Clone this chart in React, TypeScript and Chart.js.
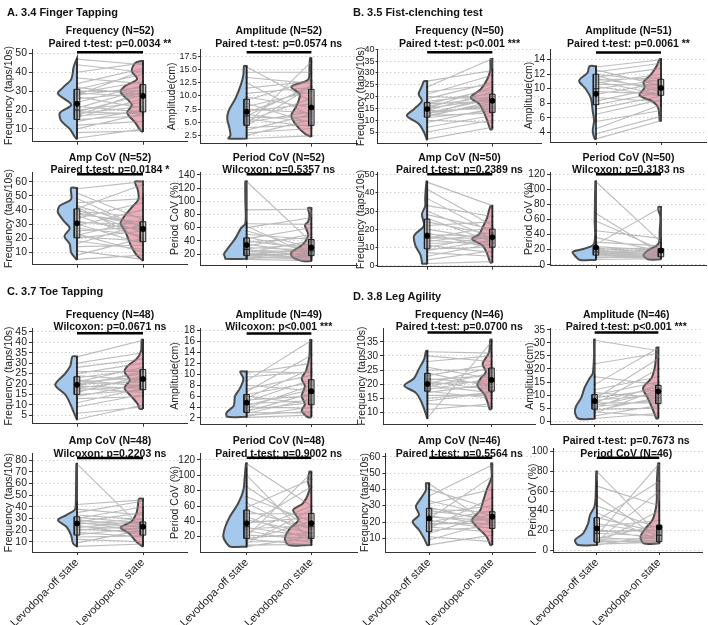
import React, { useEffect, useRef } from 'react';
import { Chart, registerables } from 'chart.js';
Chart.register(...registerables);

const FONT = '"Liberation Sans", Arial, Helvetica, sans-serif';
Chart.defaults.font.family = FONT;

const stateLabels = ['Levodopa-off state', 'Levodopa-on state'];
const freqTitle = 'Frequency (taps/10s)';
const ampTitle = 'Amplitude(cm)';
const pcovTitle = 'Period CoV (%)';

// ---------- A. 3.4 Finger Tapping ----------
const ftFreqOff = [5, 8, 10, 12, 14, 15, 16, 17, 17, 18, 19, 19, 20, 21, 22, 24, 26, 27, 28, 28, 29, 29, 30, 31, 32, 34, 37, 40, 44, 47];
const ftFreqOn = [10, 9, 18, 14, 20, 17, 26, 19, 30, 22, 18, 28, 24, 31, 19, 33, 29, 21, 32, 41, 27, 35, 30, 39, 28, 42, 34, 45, 40, 44];
const ftFreqOffViolin = [[4.4, 0], [5.8, 0.035], [10, 0.11], [14.3, 0.24], [18.5, 0.26], [22.8, 0.086], [28.7, 0.29], [32, 0.21], [36.4, 0.086], [43, 0.05], [47.4, 0]];
const ftFreqOnViolin = [[8.3, 0], [9.2, 0.04], [13.4, 0.12], [18.5, 0.24], [22.8, 0.17], [29.6, 0.34], [32.7, 0.27], [36.4, 0.09], [40.6, 0.17], [44.9, 0.12], [46, 0.03]];
const ftFreqOffBox = [5, 15, 20, 31, 47.5, 23.3];
const ftFreqOnBox = [8.5, 19, 27, 33.5, 46, 27.5];
const ftFreqTicks = [10, 20, 30, 40, 50];

const ftAmpOff = [1.9, 2.5, 3.0, 3.5, 4.0, 4.3, 4.6, 5.0, 5.3, 5.6, 5.9, 6.2, 6.5, 6.8, 7.1, 7.5, 8.0, 8.6, 9.2, 9.8, 10.5, 11.5, 12.5, 13.5, 14.5, 15.5];
const ftAmpOn = [2.4, 5.5, 3.8, 6.5, 4.5, 11.8, 16.5, 7.0, 9.5, 4.2, 6.0, 12.0, 5.0, 11.5, 8.5, 6.8, 10.8, 4.8, 13.0, 7.8, 11.6, 12.8, 6.2, 12.4, 14.5, 9.0];
const ftAmpOffViolin = [[1.9, 0.28], [2.5, 0.25], [4.1, 0.27], [5.6, 0.3], [7.1, 0.28], [9.6, 0.17], [12.1, 0.09], [14, 0.05], [15.7, 0.04]];
const ftAmpOnViolin = [[2.2, 0], [2.8, 0.1], [4.4, 0.23], [6.25, 0.31], [8.1, 0.23], [10.3, 0.18], [11.75, 0.31], [13.1, 0.05], [15.3, 0.03], [17.2, 0.02]];
const ftAmpOffBox = [1.9, 4.4, 6.2, 9.4, 15.7, 7.0];
const ftAmpOnBox = [2.2, 4.4, 7.5, 11.25, 17.2, 7.8];
const ftAmpTicks = [2.5, 5, 7.5, 10, 12.5, 15, 17.5];

const ftAcovOff = [5, 8, 11, 14, 16, 18, 20, 21, 22, 23, 25, 27, 29, 30, 31, 32, 34, 36, 37, 38, 39, 40, 41, 42, 43, 45, 48, 52, 55];
const ftAcovOn = [8, 20, 5, 15, 30, 12, 25, 18, 33, 10, 28, 22, 40, 16, 30, 26, 45, 20, 31, 29, 35, 24, 58, 19, 28, 48, 27, 33, 60];
const ftAcovOffViolin = [[4.8, 0], [5.5, 0.02], [10, 0.09], [15.7, 0.11], [21.4, 0.19], [27, 0.11], [31.6, 0.19], [38.4, 0.29], [43, 0.26], [47.5, 0.09], [55.5, 0.09]];
const ftAcovOnViolin = [[3.9, 0], [7.7, 0.09], [13.4, 0.17], [19, 0.22], [24.8, 0.27], [30.5, 0.34], [35, 0.29], [41.8, 0.17], [47.5, 0.07], [54.3, 0.08], [60, 0.12]];
const ftAcovOffBox = [4.8, 20.2, 31, 40.7, 55.5, 30.5];
const ftAcovOnBox = [3.9, 17.5, 25, 31.6, 52, 26.6];
const ftAcovTicks = [10, 20, 30, 40, 50, 60];

const ftPcovOff = [12, 13, 14, 15, 16, 17, 18, 19, 20, 21, 22, 24, 26, 27, 28, 30, 32, 35, 38, 40, 43, 46, 50, 55, 60, 62, 66, 87, 130];
const ftPcovOn = [10, 18, 15, 22, 12, 30, 16, 20, 25, 14, 40, 19, 23, 17, 35, 26, 50, 21, 45, 28, 60, 24, 42, 30, 75, 18, 65, 88, 38];
const ftPcovOffViolin = [[12.7, 0.33], [14, 0.33], [20, 0.35], [30, 0.28], [44.5, 0.17], [59, 0.09], [66.5, 0.02], [100, 0.02], [130, 0.02]];
const ftPcovOnViolin = [[9.3, 0.13], [15.1, 0.29], [22.5, 0.31], [34.7, 0.13], [49.4, 0.05], [64, 0.1], [69, 0.05], [78.8, 0.03], [90, 0.05]];
const ftPcovOffBox = [12, 17.6, 27, 44.5, 70, 33.7];
const ftPcovOnBox = [9, 17.6, 25, 42, 75, 30];
const ftPcovTicks = [20, 40, 60, 80, 100, 120, 140];

// ---------- B. 3.5 Fist-clenching test ----------
const fcFreqOff = [2, 5, 7, 9, 10, 11, 11.5, 12, 12, 12.5, 13, 13, 14, 14, 15, 15, 16, 17, 17, 18, 19, 20, 21, 22, 24, 26.5];
const fcFreqOn = [7, 10, 12, 15, 9, 14, 18, 13, 17, 20, 16, 19, 22, 15, 19, 24, 20, 18, 23, 21, 26, 19, 29, 25, 36, 31];
const fcFreqOffViolin = [[1.5, 0], [5, 0.05], [8.5, 0.13], [11.9, 0.31], [14.7, 0.2], [18.2, 0.08], [21, 0.13], [24.4, 0.08], [26.5, 0.05]];
const fcFreqOnViolin = [[6.1, 0.03], [9.9, 0.08], [13.3, 0.13], [16.8, 0.2], [19.6, 0.33], [23, 0.18], [27.2, 0.08], [31.4, 0.03], [35.8, 0.03]];
const fcFreqOffBox = [2, 11.3, 14.5, 17.5, 26.5, 14.7];
const fcFreqOnBox = [6.5, 13.3, 18.5, 21, 32, 18.2];
const fcFreqTicks = [5, 10, 15, 20, 25, 30, 35, 40];

const fcAmpOff = [3.1, 3.8, 4.5, 5.5, 6.5, 7.2, 7.8, 8.3, 8.8, 9.2, 9.6, 10.0, 10.3, 10.6, 10.8, 11.0, 11.2, 11.4, 11.6, 11.8, 12.0, 12.3, 12.6, 13.0];
const fcAmpOn = [5.6, 6.2, 7.8, 7.0, 8.5, 9.0, 9.5, 10.2, 8.2, 10.8, 9.3, 11.2, 9.0, 10.5, 12.0, 9.2, 11.5, 10.0, 12.8, 9.6, 11.0, 13.5, 10.4, 14.0];
const fcAmpOffViolin = [[3.1, 0.02], [4.2, 0.05], [5.6, 0.03], [6.9, 0.05], [8.7, 0.08], [10, 0.16], [11.1, 0.26], [12.2, 0.13], [13.1, 0.1]];
const fcAmpOnViolin = [[5.6, 0.02], [7.3, 0.04], [8.2, 0.12], [9.1, 0.33], [10.2, 0.25], [10.9, 0.27], [12, 0.15], [13.1, 0.07], [14.1, 0.02]];
const fcAmpOffBox = [5.5, 7.8, 10, 12, 13.1, 9.3];
const fcAmpOnBox = [7.3, 9.1, 10.2, 11.3, 14.1, 10.1];
const fcAmpTicks = [4, 6, 8, 10, 12, 14];

const fcAcovOff = [1, 3, 5, 7, 8, 9, 10, 11, 12, 13, 14, 15, 15, 16, 17, 18, 20, 22, 24, 26, 28, 30, 33, 37, 42, 46];
const fcAcovOn = [2, 8, 12, 5, 14, 10, 16, 7, 13, 18, 11, 15, 21, 12, 16, 9, 14, 24, 17, 13, 20, 15, 27, 18, 22, 33];
const fcAcovOffViolin = [[0.9, 0.08], [1.8, 0.08], [5.5, 0.1], [10.9, 0.18], [16.4, 0.2], [21.8, 0.05], [28.2, 0.08], [32.7, 0.03], [37.3, 0.03], [46.4, 0.01]];
const fcAcovOnViolin = [[1.5, 0.03], [6.4, 0.08], [10.9, 0.15], [14.5, 0.31], [17.3, 0.2], [20.9, 0.15], [26.4, 0.08], [32.7, 0.03]];
const fcAcovOffBox = [1, 9.1, 15, 25.5, 46.4, 16.4];
const fcAcovOnBox = [1.5, 10, 15, 20, 32.7, 15.5];
const fcAcovTicks = [0, 10, 20, 30, 40, 50];

const fcPcovOff = [7, 9, 10, 11, 12, 13, 13, 14, 15, 15, 16, 17, 17, 18, 19, 20, 21, 22, 24, 27, 30, 36, 45, 58, 68, 110];
const fcPcovOn = [8, 12, 9, 14, 10, 16, 11, 13, 18, 12, 15, 10, 20, 14, 17, 13, 22, 16, 19, 76, 25, 18, 35, 20, 15, 30];
const fcPcovOffViolin = [[6.4, 0.25], [10.6, 0.31], [17, 0.36], [21.3, 0.18], [27.7, 0.03], [60, 0.02], [110.6, 0.01]];
const fcPcovOnViolin = [[7.2, 0.2], [12.8, 0.27], [19.1, 0.2], [27.7, 0.04], [45, 0.02], [63.8, 0.01], [72.3, 0.04], [76.6, 0.04]];
const fcPcovOffBox = [6.4, 12.8, 17, 23.4, 40, 23];
const fcPcovOnBox = [7.2, 10.6, 16, 21.3, 35, 19];
const fcPcovTicks = [0, 20, 40, 60, 80, 100, 120];

// ---------- C. 3.7 Toe Tapping ----------
const ttFreqOff = [3, 6, 9, 11, 13, 14, 15, 16, 17, 18, 18, 19, 19, 20, 20, 21, 21, 22, 23, 24, 25, 26, 28, 30, 33];
const ttFreqOn = [10, 9, 15, 18, 14, 20, 17, 24, 19, 16, 22, 26, 18, 21, 25, 23, 28, 19, 27, 22, 30, 26, 32, 35, 41];
const ttFreqOffViolin = [[2.9, 0], [6.5, 0.05], [10.4, 0.1], [15, 0.18], [19.6, 0.33], [25, 0.18], [28.8, 0.1], [33.2, 0.07]];
const ttFreqOnViolin = [[8.1, 0.05], [10.4, 0.08], [14.2, 0.18], [18.1, 0.28], [21.9, 0.2], [25.8, 0.28], [28.8, 0.23], [31.9, 0.1], [35.8, 0.03], [41.2, 0.02]];
const ttFreqOffBox = [3, 15, 19.5, 23.5, 33.2, 19.6];
const ttFreqOnBox = [8.1, 17.3, 22, 27, 41.2, 22.4];
const ttFreqTicks = [5, 10, 15, 20, 25, 30, 35, 40, 45];

const ttAmpOff = [2.1, 2.3, 2.5, 2.8, 3.0, 3.2, 3.5, 3.8, 4.0, 4.3, 4.6, 5.0, 5.3, 5.6, 6.0, 6.3, 6.8, 7.3, 8.0, 8.8, 9.5, 10.2, 10.5];
const ttAmpOn = [2.5, 4.0, 3.2, 5.5, 2.9, 6.5, 4.8, 8.0, 3.8, 7.2, 5.2, 9.0, 6.0, 11.0, 4.5, 8.5, 13.5, 9.8, 7.0, 16.2, 10.5, 12.0, 10.3];
const ttAmpOffViolin = [[2.2, 0.3], [3, 0.31], [4.2, 0.2], [6, 0.18], [7.5, 0.1], [9.2, 0.05], [10.5, 0.1]];
const ttAmpOnViolin = [[2.1, 0.05], [3.3, 0.15], [4.5, 0.1], [6, 0.15], [7.8, 0.1], [9.2, 0.15], [10.7, 0.08], [13.4, 0.03], [16.3, 0.02]];
const ttAmpOffBox = [2.2, 3, 4.5, 6.3, 10.5, 4.8];
const ttAmpOnBox = [2.1, 4.4, 6.5, 9, 16.3, 6.9];
const ttAmpTicks = [2, 4, 6, 8, 10, 12, 14, 16, 18];

const ttAcovOff = [6, 9, 12, 14, 16, 18, 20, 21, 22, 23, 24, 25, 26, 27, 27, 28, 29, 30, 31, 33, 35, 38, 42, 77];
const ttAcovOn = [8, 20, 10, 15, 22, 14, 24, 18, 28, 21, 16, 30, 23, 19, 35, 25, 22, 40, 26, 29, 45, 33, 46, 21];
const ttAcovOffViolin = [[5.7, 0], [8.6, 0.06], [15.7, 0.09], [22.9, 0.16], [28.6, 0.29], [32.9, 0.16], [37, 0.04], [40, 0.02], [77, 0.01]];
const ttAcovOnViolin = [[5.7, 0], [10, 0.1], [17.1, 0.21], [22.3, 0.34], [27.1, 0.18], [34.3, 0.1], [40, 0.08], [47, 0.06]];
const ttAcovOffBox = [5.7, 15.7, 25, 31.4, 45, 25.7];
const ttAcovOnBox = [5.7, 15.7, 22, 27, 40, 22.9];
const ttAcovTicks = [10, 20, 30, 40, 50, 60, 70, 80];

const ttPcovOff = [7, 9, 11, 13, 15, 17, 18, 20, 22, 25, 28, 30, 32, 35, 38, 42, 46, 50, 54, 58, 64, 72, 85, 100, 115];
const ttPcovOn = [20, 10, 55, 15, 40, 9, 25, 103, 18, 60, 12, 35, 20, 85, 45, 25, 15, 50, 30, 95, 22, 40, 30, 15, 60];
const ttPcovOffViolin = [[7, 0.25], [11.3, 0.31], [20, 0.36], [33, 0.33], [46, 0.26], [63.5, 0.13], [81, 0.05], [98.3, 0.03], [115.7, 0.01]];
const ttPcovOnViolin = [[9.1, 0.35], [17.8, 0.41], [30.9, 0.33], [41.7, 0.2], [54.8, 0.28], [63.5, 0.13], [81, 0.03], [91.7, 0.05], [104.8, 0.03]];
const ttPcovOffBox = [7, 17.8, 33, 54.8, 110, 37.4];
const ttPcovOnBox = [9, 17.8, 33, 50.4, 104.8, 37.4];
const ttPcovTicks = [20, 40, 60, 80, 100, 120];

// ---------- D. 3.8 Leg Agility ----------
const laFreqOff = [8, 11, 13, 14, 15, 16, 17, 17.5, 18, 18.5, 19, 19.5, 20, 20, 21, 21.5, 22, 23, 24, 25, 26, 28, 30, 31.5];
const laFreqOn = [35, 13, 12, 17, 17, 16, 20, 15, 22, 19, 24, 17, 21, 26, 18, 23, 20, 27, 19, 25, 22, 30, 28, 31];
const laFreqOffViolin = [[7.7, 0], [11.1, 0.05], [14, 0.1], [16.9, 0.18], [19.5, 0.36], [22, 0.21], [25.5, 0.13], [28.9, 0.05], [31.8, 0.02]];
const laFreqOnViolin = [[11.1, 0.03], [13.4, 0.06], [16.3, 0.11], [19.5, 0.22], [22, 0.17], [24.3, 0.09], [27.2, 0.14], [31.2, 0.04], [35.8, 0.02]];
const laFreqOffBox = [7.7, 17.5, 20, 23.8, 31.8, 20];
const laFreqOnBox = [11.1, 17.5, 21, 25.7, 35.8, 21.5];
const laFreqTicks = [10, 15, 20, 25, 30, 35];

const laAmpOff = [1, 2, 3, 3.5, 4, 4.5, 5, 5.5, 6, 6.5, 7, 7.5, 8, 8.5, 9, 10, 11, 12, 14, 17, 22, 31];
const laAmpOn = [3, 6, 12, 2, 9, 5, 14, 8, 11, 20, 7, 13, 10, 24, 12, 15, 9, 17, 28, 14, 26, 27];
const laAmpOffViolin = [[0.9, 0.25], [3.4, 0.31], [5.8, 0.29], [9, 0.21], [12.7, 0.16], [16.4, 0.08], [18.3, 0.03], [25, 0.01], [31.3, 0.01]];
const laAmpOnViolin = [[1, 0.03], [2.7, 0.06], [5.8, 0.11], [9, 0.17], [12.7, 0.24], [16.4, 0.11], [20.1, 0.06], [23.8, 0.04], [28.2, 0.03]];
const laAmpOffBox = [0.9, 4.6, 7, 10.2, 18, 7.7];
const laAmpOnBox = [1, 6.7, 11, 13.7, 24, 11.4];
const laAmpTicks = [0, 5, 10, 15, 20, 25, 30, 35];

const laAcovOff = [6, 9, 11, 13, 15, 16, 17, 18, 19, 20, 21, 22, 23, 24, 25, 27, 28, 29, 31, 33, 36, 40, 43.5];
const laAcovOn = [12, 20, 8, 25, 17, 35, 14, 22, 19, 27, 16, 48, 21, 18, 30, 22, 26, 20, 40, 24, 55, 28, 18];
const laAcovOffViolin = [[5.9, 0.03], [10, 0.08], [15.1, 0.16], [20.2, 0.26], [24.3, 0.16], [29.4, 0.21], [34.5, 0.13], [39.6, 0.05], [43.7, 0.05]];
const laAcovOnViolin = [[5.9, 0.03], [11, 0.09], [16.1, 0.22], [21.2, 0.32], [27.3, 0.19], [33.5, 0.14], [39.6, 0.09], [47.8, 0.01], [55.9, 0.02]];
const laAcovOffBox = [5.9, 14.1, 21, 28.4, 43.7, 22.2];
const laAcovOnBox = [5.9, 16.1, 22, 26.3, 40, 23.3];
const laAcovTicks = [10, 20, 30, 40, 50, 60];

const laPcovOff = [5, 6, 7, 8, 9, 10, 11, 12, 13, 15, 17, 19, 21, 24, 27, 30, 33, 38, 45, 55, 65, 80];
const laPcovOn = [15, 8, 40, 10, 60, 7, 12, 25, 9, 88, 14, 20, 11, 30, 16, 70, 18, 10, 22, 12, 45, 15];
const laPcovOffViolin = [[5.1, 0.3], [10.2, 0.35], [17, 0.22], [27.1, 0.14], [35.6, 0.11], [44, 0.04], [54.2, 0.02], [79.7, 0.01]];
const laPcovOnViolin = [[6.8, 0.25], [13.6, 0.3], [22, 0.22], [30.5, 0.11], [40.7, 0.06], [50.8, 0.04], [66, 0.04], [88, 0.02]];
const laPcovOffBox = [5, 8, 17, 33, 70, 22];
const laPcovOnBox = [6.8, 8.5, 15, 25.4, 50, 23];
const laPcovTicks = [0, 20, 40, 60, 80, 100];

// ---------- section headers ----------
const sections = [
  { text: 'A. 3.4 Finger Tapping', x: 7, y: 6 },
  { text: 'B. 3.5 Fist-clenching test', x: 353, y: 6 },
  { text: 'C. 3.7 Toe Tapping', x: 7, y: 285 },
  { text: 'D. 3.8 Leg Agility', x: 353, y: 290 },
];

// layout per row / column (pixels)
const R1 = { top: 49, bottom: 145, titleY: 24, bottomRow: false };
const R2 = { top: 172, bottom: 268, titleY: 150.5, bottomRow: false };
const R3 = { top: 328, bottom: 427, titleY: 307.5, bottomRow: false };
const R4 = { top: 453, bottom: 552, titleY: 434, bottomRow: true };
const C1 = { titleLeft: 3, plotLeft: 32, offX: 77, onX: 143, tickSize: 10.5, tickLen: 3 };
const C2 = { titleLeft: 169, plotLeft: 200, offX: 246.5, onX: 311, tickSize: 10, tickLen: 3 };
const C3B = { titleLeft: 355, plotLeft: 377.5, offX: 427, onX: 492, tickSize: 9, tickLen: 2 };
const C3D = { titleLeft: 356, plotLeft: 383, offX: 427.3, onX: 491.3, tickSize: 10, tickLen: 3 };
const C4B = { titleLeft: 523, plotLeft: 550, offX: 596, onX: 661, tickSize: 10, tickLen: 3 };
const C4D = { titleLeft: 524, plotLeft: 550, offX: 594.5, onX: 658, tickSize: 10, tickLen: 3 };

const panels = [
  { title: ['Frequency (N=52)', 'Paired t-test: p=0.0034 **'], yTitle: freqTitle, off: ftFreqOff, on: ftFreqOn, offV: ftFreqOffViolin, onV: ftFreqOnViolin, offBox: ftFreqOffBox, onBox: ftFreqOnBox, ticks: ftFreqTicks, dec: 0, yMin: 3.2, yMax: 52.2, bar: 50.7, geo: { ...R1, ...C1 } },
  { title: ['Amplitude (N=52)', 'Paired t-test: p=0.0574 ns'], yTitle: ampTitle, off: ftAmpOff, on: ftAmpOn, offV: ftAmpOffViolin, onV: ftAmpOnViolin, offBox: ftAmpOffBox, onBox: ftAmpOnBox, ticks: ftAmpTicks, dec: 1, yMin: 0.93, yMax: 18.94, bar: 18.3, geo: { ...R1, ...C2, tickSize: 9, titleLeft: 166, tickLen: 2 } },
  { title: ['Amp CoV (N=52)', 'Paired t-test: p=0.0184 *'], yTitle: freqTitle, off: ftAcovOff, on: ftAcovOn, offV: ftAcovOffViolin, onV: ftAcovOnViolin, offBox: ftAcovOffBox, onBox: ftAcovOnBox, ticks: ftAcovTicks, dec: 0, yMin: 1.2, yMax: 66.6, bar: 65.2, geo: { ...R2, ...C1 } },
  { title: ['Period CoV (N=52)', 'Wilcoxon: p=0.5357 ns'], yTitle: pcovTitle, off: ftPcovOff, on: ftPcovOn, offV: ftPcovOffViolin, onV: ftPcovOnViolin, offBox: ftPcovOffBox, onBox: ftPcovOnBox, ticks: ftPcovTicks, dec: 0, yMin: 3.4, yMax: 144.4, bar: 141, geo: { ...R2, ...C2 } },
  { title: ['Frequency (N=50)', 'Paired t-test: p<0.001 ***'], yTitle: freqTitle, off: fcFreqOff, on: fcFreqOn, offV: fcFreqOffViolin, onV: fcFreqOnViolin, offBox: fcFreqOffBox, onBox: fcFreqOnBox, ticks: fcFreqTicks, dec: 0, yMin: 0.1, yMax: 40.1, bar: 38.75, geo: { ...R1, ...C3B } },
  { title: ['Amplitude (N=51)', 'Paired t-test: p=0.0061 **'], yTitle: ampTitle, off: fcAmpOff, on: fcAmpOn, offV: fcAmpOffViolin, onV: fcAmpOnViolin, offBox: fcAmpOffBox, onBox: fcAmpOnBox, ticks: fcAmpTicks, dec: 0, yMin: 2.67, yMax: 15.47, bar: 15.0, geo: { ...R1, ...C4B } },
  { title: ['Amp CoV (N=50)', 'Paired t-test: p=0.2389 ns'], yTitle: freqTitle, off: fcAcovOff, on: fcAcovOn, offV: fcAcovOffViolin, onV: fcAcovOnViolin, offBox: fcAcovOffBox, onBox: fcAcovOnBox, ticks: fcAcovTicks, dec: 0, yMin: -0.74, yMax: 51.6, bar: 50.4, geo: { ...R2, ...C3B } },
  { title: ['Period CoV (N=50)', 'Wilcoxon: p=0.3183 ns'], yTitle: pcovTitle, off: fcPcovOff, on: fcPcovOn, offV: fcPcovOffViolin, onV: fcPcovOnViolin, offBox: fcPcovOffBox, onBox: fcPcovOnBox, ticks: fcPcovTicks, dec: 0, yMin: -0.3, yMax: 122.9, bar: 120, geo: { ...R2, ...C4B } },
  { title: ['Frequency (N=48)', 'Wilcoxon: p=0.0671 ns'], yTitle: freqTitle, off: ttFreqOff, on: ttFreqOn, offV: ttFreqOffViolin, onV: ttFreqOnViolin, offBox: ttFreqOffBox, onBox: ttFreqOnBox, ticks: ttFreqTicks, dec: 0, yMin: 1.0, yMax: 46.7, bar: 44.3, geo: { ...R3, ...C1 } },
  { title: ['Amplitude (N=49)', 'Wilcoxon: p<0.001 ***'], yTitle: ampTitle, off: ttAmpOff, on: ttAmpOn, offV: ttAmpOffViolin, onV: ttAmpOnViolin, offBox: ttAmpOffBox, onBox: ttAmpOnBox, ticks: ttAmpTicks, dec: 0, yMin: 0.88, yMax: 18.5, bar: 17.5, geo: { ...R3, ...C2 } },
  { title: ['Frequency (N=46)', 'Paired t-test: p=0.0700 ns'], yTitle: freqTitle, off: laFreqOff, on: laFreqOn, offV: laFreqOffViolin, onV: laFreqOnViolin, offBox: laFreqOffBox, onBox: laFreqOnBox, ticks: laFreqTicks, dec: 0, yMin: 5.86, yMax: 39.9, bar: 38.3, geo: { ...R3, ...C3D } },
  { title: ['Amplitude (N=46)', 'Paired t-test: p<0.001 ***'], yTitle: ampTitle, off: laAmpOff, on: laAmpOn, offV: laAmpOffViolin, onV: laAmpOnViolin, offBox: laAmpOffBox, onBox: laAmpOnBox, ticks: laAmpTicks, dec: 0, yMin: -1.1, yMax: 35.7, bar: 34, geo: { ...R3, ...C4D } },
  { title: ['Amp CoV (N=48)', 'Wilcoxon: p=0.2203 ns'], yTitle: freqTitle, off: ttAcovOff, on: ttAcovOn, offV: ttAcovOffViolin, onV: ttAcovOnViolin, offBox: ttAcovOffBox, onBox: ttAcovOnBox, ticks: ttAcovTicks, dec: 0, yMin: 1.17, yMax: 86, bar: 82, geo: { ...R4, ...C1 } },
  { title: ['Period CoV (N=48)', 'Paired t-test: p=0.9002 ns'], yTitle: pcovTitle, off: ttPcovOff, on: ttPcovOn, offV: ttPcovOffViolin, onV: ttPcovOnViolin, offBox: ttPcovOffBox, onBox: ttPcovOnBox, ticks: ttPcovTicks, dec: 0, yMin: 0.05, yMax: 129.1, bar: 123, geo: { ...R4, ...C2 } },
  { title: ['Amp CoV (N=46)', 'Paired t-test: p=0.5564 ns'], yTitle: freqTitle, off: laAcovOff, on: laAcovOn, offV: laAcovOffViolin, onV: laAcovOnViolin, offBox: laAcovOffBox, onBox: laAcovOnBox, ticks: laAcovTicks, dec: 0, yMin: 1.64, yMax: 62.3, bar: 59.4, geo: { ...R4, ...C3D } },
  { title: ['Paired t-test: p=0.7673 ns', 'Period CoV (N=46)'], yTitle: pcovTitle, off: laPcovOff, on: laPcovOn, offV: laPcovOffViolin, onV: laPcovOnViolin, offBox: laPcovOffBox, onBox: laPcovOnBox, ticks: laPcovTicks, dec: 0, yMin: -2.0, yMax: 103.8, bar: 93.9, geo: { ...R4, ...C4D, top: 448 } },
];

const BLUE = 'rgba(160,198,236,0.95)';
const PINK = 'rgba(236,166,180,0.95)';
const OUTLINE = '#4a4a4a';

function violinPath(vals: number[][], x0: number) {
  const y0 = vals[0][0];
  const y1 = vals[vals.length - 1][0];
  const pts: { x: number; y: number }[] = [{ x: x0, y: y0 }];
  vals.forEach(([y, w]) => pts.push({ x: x0 - w, y }));
  pts.push({ x: x0, y: y1 }, { x: x0, y: y1 }, { x: x0, y: y0 }, { x: x0, y: y0 });
  return pts;
}

function Panel({ p }: { p: any }) {
  const ref = useRef<HTMLCanvasElement | null>(null);
  const g = p.geo;
  const unit = g.onX - g.offX;
  const plotRight = Math.min(g.onX + (g.offX - g.plotLeft), 707);
  const xMin = -(g.offX - g.plotLeft) / unit;
  const xMax = 1 + (plotRight - g.onX) / unit;
  const padTop = 8;
  const xAxisH = g.bottomRow ? 625 - g.bottom : 5;
  const left = g.titleLeft;
  const width = Math.round(plotRight - left);
  const top = g.top - padTop;
  const height = padTop + (g.bottom - g.top) + xAxisH;
  const axisW = g.plotLeft - g.titleLeft;

  useEffect(() => {
    if (!ref.current) return;
    const bw = 0.042;
    const pairs: any[] = [];
    p.off.forEach((v: number, i: number) => {
      pairs.push({ x: 0, y: v }, { x: 1, y: p.on[i] }, { x: 0.5, y: null });
    });
    const pts: any[] = [];
    p.off.forEach((v: number) => pts.push({ x: 0, y: v }));
    p.on.forEach((v: number) => pts.push({ x: 1, y: v }));
    const boxRect = (b: number[], x0: number) => [
      { x: x0 - bw, y: b[1] }, { x: x0 + bw, y: b[1] }, { x: x0 + bw, y: b[3] }, { x: x0 - bw, y: b[3] }, { x: x0 - bw, y: b[1] },
    ];
    const boxLines = (b: number[], x0: number) => [
      { x: x0, y: b[0] }, { x: x0, y: b[1] }, { x: x0, y: null },
      { x: x0, y: b[3] }, { x: x0, y: b[4] }, { x: x0, y: null },
      { x: x0 - bw, y: b[2] }, { x: x0 + bw, y: b[2] },
    ];
    const base = { showLine: true, pointRadius: 0, tension: 0, fill: false };
    const datasets: any[] = [
      { ...base, data: violinPath(p.offV, 0), fill: 'shape', backgroundColor: BLUE, borderColor: OUTLINE, borderWidth: 2, tension: 0.3, order: 10 },
      { ...base, data: violinPath(p.onV, 1), fill: 'shape', backgroundColor: PINK, borderColor: OUTLINE, borderWidth: 2, tension: 0.3, order: 9 },
      { ...base, data: pairs, borderColor: 'rgba(145,145,145,0.6)', borderWidth: 1.1, order: 8 },
      { showLine: false, data: pts, pointRadius: 1, pointBorderWidth: 0, pointBackgroundColor: 'rgba(40,40,40,0.75)', order: 7 },
      { ...base, data: boxRect(p.offBox, 0), fill: 'shape', backgroundColor: 'rgba(120,120,120,0.35)', borderColor: '#1e1e1e', borderWidth: 1, order: 6 },
      { ...base, data: boxRect(p.onBox, 1), fill: 'shape', backgroundColor: 'rgba(120,120,120,0.35)', borderColor: '#1e1e1e', borderWidth: 1, order: 5 },
      { ...base, data: boxLines(p.offBox, 0), borderColor: '#1e1e1e', borderWidth: 1, order: 4 },
      { ...base, data: boxLines(p.onBox, 1), borderColor: '#1e1e1e', borderWidth: 1, order: 3 },
      { showLine: false, data: [{ x: 0, y: p.offBox[5] }, { x: 1, y: p.onBox[5] }], pointRadius: 2.5, pointBackgroundColor: '#000', pointBorderColor: '#000', pointBorderWidth: 1, order: 2 },
      { ...base, data: [{ x: 0, y: p.bar }, { x: 1, y: p.bar }], borderColor: '#000', borderWidth: 2.5, clip: false, order: 1 },
    ];
    const chart = new Chart(ref.current, {
      type: 'scatter',
      data: { datasets },
      options: {
        responsive: false,
        animation: false,
        devicePixelRatio: 1,
        events: [],
        layout: { autoPadding: false, padding: { top: padTop, left: 0, right: 0, bottom: 0 } },
        plugins: { legend: { display: false }, tooltip: { enabled: false }, title: { display: false } },
        scales: {
          x: {
            type: 'linear',
            min: xMin,
            max: xMax,
            afterBuildTicks: (s: any) => { s.ticks = [{ value: 0 }, { value: 1 }]; },
            afterFit: (s: any) => { s.height = xAxisH; },
            ticks: {
              autoSkip: false,
              minRotation: 45,
              maxRotation: 45,
              padding: 1,
              font: { size: 11, family: FONT },
              color: '#222',
              callback: (_v: any, i: number) => (g.bottomRow ? stateLabels[i] : ''),
            },
            grid: { drawOnChartArea: false, tickLength: 3, color: '#333' },
            border: { display: true, color: '#333', width: 1 },
          },
          y: {
            type: 'linear',
            min: p.yMin,
            max: p.yMax,
            afterBuildTicks: (s: any) => { s.ticks = p.ticks.map((v: number) => ({ value: v })); },
            afterFit: (s: any) => { s.width = axisW; },
            ticks: {
              autoSkip: false,
              padding: g.tickLen === 2 ? 1 : 2,
              font: { size: g.tickSize, family: FONT },
              color: '#222',
              callback: (v: any) => Number(v).toFixed(p.dec),
            },
            grid: { color: '#cfcfcf', lineWidth: 1, tickLength: g.tickLen, tickColor: '#333' },
            border: { display: true, color: '#333', width: 1, dash: [1.5, 2.5] },
            title: { display: true, text: p.yTitle, font: { size: 10.5, family: FONT, lineHeight: 1.2 }, color: '#222', padding: 0 },
          },
        },
      } as any,
    });
    return () => chart.destroy();
  }, []);

  return (
    <>
      <canvas ref={ref} width={width} height={height} style={{ position: 'absolute', left, top, width, height }} />
      <div
        style={{
          position: 'absolute',
          left: (g.plotLeft + plotRight) / 2 - 100,
          top: g.titleY,
          width: 200,
          textAlign: 'center',
          font: `bold 10.5px ${FONT}`,
          lineHeight: '12.5px',
          whiteSpace: 'nowrap',
          color: '#111',
        }}
      >
        {p.title[0]}
        <br />
        {p.title[1]}
      </div>
    </>
  );
}

export default function App() {
  return (
    <div style={{ position: 'absolute', left: 0, top: 0, width: 708, height: 625, background: '#fff', overflow: 'hidden' }}>
      {panels.map((p, i) => (
        <Panel key={i} p={p} />
      ))}
      {sections.map((s, i) => (
        <div key={i} style={{ position: 'absolute', left: s.x, top: s.y, font: `bold 11px ${FONT}`, color: '#111', whiteSpace: 'nowrap' }}>
          {s.text}
        </div>
      ))}
    </div>
  );
}
